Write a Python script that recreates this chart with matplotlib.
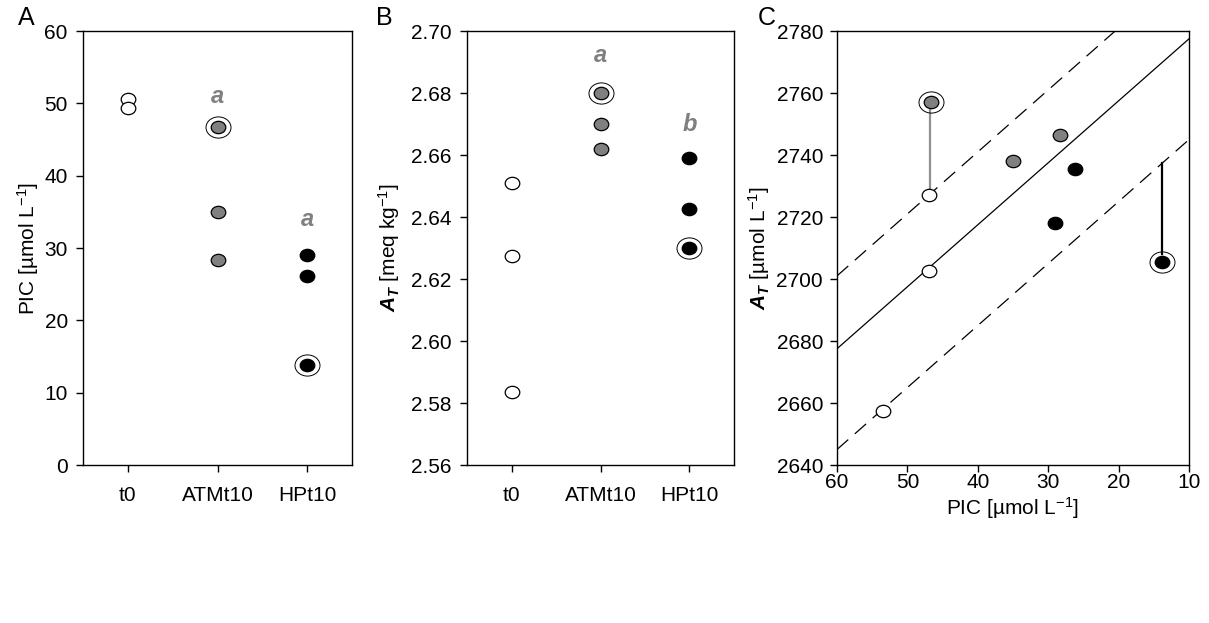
import matplotlib
matplotlib.use('Agg')
import matplotlib.pyplot as plt
from matplotlib.path import Path
from matplotlib.transforms import Affine2D
from matplotlib.markers import MarkerStyle

# ======== Data ========
groups = ['t0', 'ATMt10', 'HPt10']
group_colors = ['white', '#808080', 'black']

# panel A: PIC (umol/L)
pic_t0 = [50.6, 49.3]
pic_atm = [46.7, 35.0, 28.3]
pic_hp = [29.1, 26.2, 13.8]
pic_ringed = [(2, 46.7), (3, 13.8)]
pic_letters = [(2, 50.9, 'a'), (3, 34.0, 'a')]

# panel B: A_T (meq/kg)
at_t0 = [2.651, 2.6275, 2.5835]
at_atm = [2.680, 2.670, 2.662]
at_hp = [2.659, 2.6425, 2.630]
at_ringed = [(2, 2.680), (3, 2.630)]
at_letters = [(2, 2.692, 'a'), (3, 2.670, 'b')]

# panel C: A_T (umol/L) vs PIC
c_t0_pic = [47.0, 47.0, 53.4]
c_t0_at = [2727.0, 2702.7, 2657.5]
c_atm_pic = [46.7, 35.0, 28.3]
c_atm_at = [2757.2, 2738.2, 2746.5]
c_hp_pic = [29.1, 26.2, 13.8]
c_hp_at = [2718.0, 2735.5, 2705.5]
c_ringed = [(46.7, 2757.2), (13.8, 2705.5)]
# vertical connectors (x, y_start, y_end, colour)
c_links = [(46.8, 2729.5, 2755.0, '#909090'), (13.8, 2708.0, 2737.5, 'black')]
# lines of slope -2 (A_T vs PIC): value at PIC = 60
line_pic = [60, 10]
line_solid_at60 = 2677.5
line_upper_at60 = 2701.0
line_lower_at60 = 2645.0

# ======== Style ========
plt.rcParams.update({
    'font.family': 'Liberation Sans', 'font.size': 15,
    'mathtext.fontset': 'custom',
    'mathtext.rm': 'Liberation Sans',
    'mathtext.it': 'Liberation Sans:italic',
    'mathtext.bf': 'Liberation Sans:bold',
    'mathtext.bfit': 'Liberation Sans:bold:italic',
    'axes.linewidth': 1.0,
    'xtick.direction': 'out', 'ytick.direction': 'out',
    'xtick.major.size': 5, 'ytick.major.size': 5,
    'xtick.major.width': 1.0, 'ytick.major.width': 1.0,
})

# slightly wide ellipse, as in the original figure
ell = MarkerStyle(Affine2D().scale(1.18, 1.0).transform_path(Path.unit_circle()))
ms_dot = 10.5
ms_ring = 18

fig = plt.figure(figsize=(12.09, 6.23), dpi=100)
axA = fig.add_axes([0.0687, 0.2536, 0.2225, 0.6966])
axB = fig.add_axes([0.3863, 0.2536, 0.2208, 0.6966])
axC = fig.add_axes([0.6923, 0.2536, 0.2912, 0.6966])


def dot(ax, x, y, c):
    ax.plot(x, y, ls='none', marker=ell, ms=ms_dot, mfc=c, mec='black', mew=0.9, zorder=3)


def ring(ax, x, y):
    ax.plot(x, y, ls='none', marker=ell, ms=ms_ring, mfc='none', mec='black', mew=0.7, zorder=3)


def cat_panel(ax, series, ringed, letters, ylim, yticks, fmt):
    for i, (vals, c) in enumerate(zip(series, group_colors)):
        dot(ax, [i + 1] * len(vals), vals, c)
    for x, y in ringed:
        ring(ax, x, y)
    for x, y, s in letters:
        ax.text(x, y, s, color='#808080', fontweight='bold', fontstyle='italic',
                fontsize=17, ha='center', va='center')
    ax.set_xlim(0.5, 3.5)
    ax.set_ylim(*ylim)
    ax.set_xticks([1, 2, 3])
    ax.set_xticklabels(groups)
    ax.set_yticks(yticks)
    ax.set_yticklabels([fmt.format(t) for t in yticks])
    ax.tick_params(axis='x', pad=10, top=False)
    ax.tick_params(axis='y', pad=6, right=False)


# ======== Panel A ========
cat_panel(axA, [pic_t0, pic_atm, pic_hp], pic_ringed, pic_letters,
          (0, 60), list(range(0, 61, 10)), '{:d}')
axA.set_ylabel(r'PIC [µmol L$^{-1}$]')
axA.yaxis.set_label_coords(-0.155, 0.5)

# ======== Panel B ========
bticks = [2.56, 2.58, 2.60, 2.62, 2.64, 2.66, 2.68, 2.70]
cat_panel(axB, [at_t0, at_atm, at_hp], at_ringed, at_letters,
          (2.56, 2.70), bticks, '{:.2f}')
axB.set_ylabel(r'$\mathbfit{A}_{\mathbfit{T}}$ [meq kg$^{-1}$]')
axB.yaxis.set_label_coords(-0.245, 0.5)

# ======== Panel C ========
for base, ls in [(line_solid_at60, '-'), (line_upper_at60, (0, (12, 7))),
                 (line_lower_at60, (0, (12, 7)))]:
    ys = [base + 2 * (60 - p) for p in line_pic]
    axC.plot(line_pic, ys, color='black', lw=0.9, ls=ls, zorder=1)
for x, y0, y1, c in c_links:
    axC.plot([x, x], [y0, y1], color=c, lw=1.6, zorder=2)
dot(axC, c_t0_pic, c_t0_at, 'white')
dot(axC, c_atm_pic, c_atm_at, '#808080')
dot(axC, c_hp_pic, c_hp_at, 'black')
for x, y in c_ringed:
    ring(axC, x, y)
axC.set_xlim(60, 10)
axC.set_ylim(2640, 2780)
axC.set_xticks(range(60, 9, -10))
axC.set_yticks(range(2640, 2781, 20))
axC.tick_params(axis='x', pad=1, top=False)
axC.tick_params(axis='y', pad=5, right=False)
axC.set_xlabel(r'PIC [µmol L$^{-1}$]', labelpad=2)
axC.set_ylabel(r'$\mathbfit{A}_{\mathbfit{T}}$ [µmol L$^{-1}$]')
axC.yaxis.set_label_coords(-0.185, 0.5)

# panel letters
for xf, s in [(0.0215, 'A'), (0.318, 'B'), (0.634, 'C')]:
    fig.text(xf, 0.971, s, fontsize=18, ha='center', va='center')

fig.savefig('out.png', dpi=100)
